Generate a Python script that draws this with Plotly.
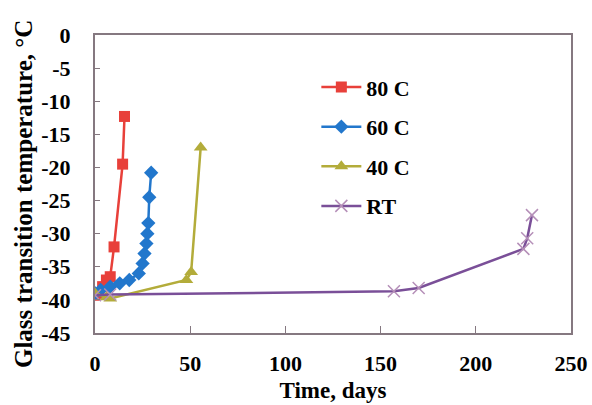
import plotly.graph_objects as go

# Data
x80 = [0, 2, 4, 6, 8, 10, 14.5, 15.5]
y80 = [-39.3, -39.0, -38.0, -37.0, -36.5, -32.0, -19.5, -12.3]

x60 = [0, 3, 8, 13, 18, 23, 25, 26, 27, 27.5, 28, 28.5, 29.5]
y60 = [-39.0, -38.5, -38.0, -37.5, -37.0, -36.0, -34.5, -33.0, -31.5, -30.0, -28.4, -24.5, -20.8]

x40 = [0, 6, 8, 48, 50.5, 55.5]
y40 = [-39.0, -39.6, -39.8, -37.0, -35.8, -17.0]

xRT = [0, 8, 157, 170, 225, 227, 229.5]
yRT = [-39.3, -39.2, -38.7, -38.2, -32.3, -30.7, -27.2]

names = ["80 C", "60 C", "40 C", "RT"]
xt = [0, 50, 100, 150, 200, 250]
yt = [0, -5, -10, -15, -20, -25, -30, -35, -40, -45]

FONT = "Liberation Serif"
axis_col = "#857880"

fig = go.Figure()
fig.add_trace(go.Scatter(x=x80, y=y80, name=names[0], mode="lines+markers", legendgroup="a",
                         line=dict(color="#e8403a", width=2.5),
                         marker=dict(symbol="square", size=11, color="#e8403a")))
fig.add_trace(go.Scatter(x=x60, y=y60, name=names[1], mode="lines+markers", legendgroup="b",
                         line=dict(color="#2277cc", width=2.5),
                         marker=dict(symbol="diamond", size=11, color="#2277cc")))
fig.add_trace(go.Scatter(x=x40, y=y40, name=names[2], mode="lines+markers", legendgroup="c",
                         line=dict(color="#b3ac3a", width=2.5),
                         marker=dict(symbol="triangle-up", size=12, color="#b3ac3a")))
fig.add_trace(go.Scatter(x=xRT, y=yRT, name=names[3], mode="lines+markers", legendgroup="d",
                         line=dict(color="#7a4f98", width=2.5),
                         marker=dict(symbol="x-thin", size=12, color="#b58fb8",
                                     line=dict(color="#b58fb8", width=1.5))))

fig.update_layout(
    width=592, height=405,
    margin=dict(l=95, r=21, t=35, b=72),
    paper_bgcolor="white", plot_bgcolor="white",
    font=dict(family=FONT, color="black", size=20),
    showlegend=True,
    legend=dict(x=0.465, y=0.895, xanchor="left", yanchor="top",
                font=dict(family=FONT, size=22, color="black"),
                bgcolor="rgba(0,0,0,0)", tracegroupgap=8, traceorder="grouped",
                itemwidth=40),
    xaxis=dict(range=[0, 250], tickvals=xt, ticktext=[f"<b>{v}</b>" for v in xt],
               ticks="inside", ticklen=7, tickcolor=axis_col, automargin=False,
               showline=True, linecolor=axis_col, linewidth=2, mirror=True, showgrid=False,
               zeroline=False, tickfont=dict(family=FONT, size=22),
               ticklabelstandoff=10,
               title=dict(text="<b>Time, days</b>", font=dict(family=FONT, size=23),
                          standoff=6)),
    yaxis=dict(range=[-45, 0], tickvals=yt, ticktext=[f"<b>{v}</b>" for v in yt],
               ticks="inside", ticklen=5, tickcolor=axis_col, automargin=False,
               showline=True, linecolor=axis_col, linewidth=2, mirror=True, showgrid=False,
               zeroline=False, tickfont=dict(family=FONT, size=22),
               ticklabelstandoff=18),
    annotations=[dict(text="<b>Glass transition temperature, °C</b>", textangle=-90,
                      xref="paper", yref="paper", x=-0.15, y=0.465,
                      xanchor="center", yanchor="middle", showarrow=False,
                      font=dict(family=FONT, size=25, color="black"))],
)
for tr, nm in zip(fig.data, names):
    tr.name = f"<b>{nm}</b>"
fig.write_html("out.html", config={"displayModeBar": False},
               post_script="document.body.style.margin='0';")
